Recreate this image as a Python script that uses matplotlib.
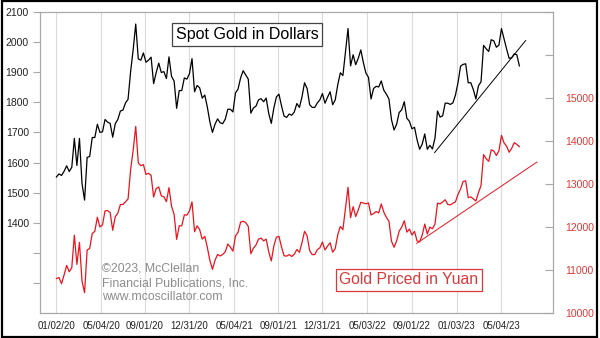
import matplotlib
matplotlib.use("Agg")
import matplotlib.pyplot as plt
import matplotlib.dates as mdates
import pandas as pd

plt.rcParams["font.family"] = ["Liberation Sans", "DejaVu Sans"]

RED = "#e8141e"
RED_TXT = "#d83a3a"
GRID = "#dadada"
SPINE = "#a8a8a8"

# weekly readings, first one 2020-01-03
start = "2020-01-03"

gold_usd = [
    1552, 1562, 1557, 1571, 1589, 1570, 1584, 1680, 1590, 1680, 1530, 1475, 1617,
    1620, 1683, 1683, 1727, 1700, 1702, 1743, 1734, 1730, 1684, 1729, 1743, 1771,
    1774, 1798, 1810, 1902, 1975, 2060, 1944, 1940, 1964, 1933, 1940, 1950, 1862,
    1899, 1930, 1899, 1902, 1879, 1951, 1886, 1871, 1780, 1839, 1839, 1881, 1877,
    1895, 1945, 1835, 1856, 1848, 1814, 1824, 1784, 1734, 1700, 1727, 1745, 1732,
    1729, 1744, 1777, 1777, 1768, 1831, 1844, 1881, 1905, 1891, 1877, 1764, 1781,
    1787, 1808, 1812, 1802, 1814, 1763, 1730, 1781, 1818, 1827, 1788, 1754, 1750,
    1761, 1757, 1768, 1796, 1783, 1818, 1865, 1846, 1792, 1783, 1783, 1798, 1808,
    1829, 1797, 1817, 1835, 1792, 1808, 1859, 1898, 1889, 1966, 2045, 1921, 1958,
    1925, 1946, 1974, 1932, 1897, 1883, 1811, 1846, 1853, 1851, 1871, 1840, 1827,
    1811, 1742, 1708, 1727, 1766, 1775, 1802, 1747, 1737, 1712, 1717, 1675, 1644,
    1661, 1695, 1644, 1657, 1645, 1681, 1771, 1751, 1755, 1797, 1797, 1793, 1798,
    1824, 1865, 1920, 1926, 1928, 1865, 1865, 1842, 1811, 1855, 1868, 1989, 1978,
    1969, 2008, 2004, 1983, 1990, 2045, 2011, 1977, 1946, 1948, 1961, 1958, 1921,
]

gold_cny = [
    10802, 10825, 10681, 10887, 11107, 10959, 11056, 11810, 11130, 11642, 10741, 10473, 11465,
    11502, 11848, 11899, 12227, 12002, 12050, 12375, 12381, 12335, 11923, 12241, 12323, 12521,
    12524, 12586, 12652, 13333, 13786, 14338, 13491, 13425, 13453, 13222, 13250, 13202, 12699,
    12894, 12931, 12723, 12705, 12589, 12916, 12485, 12292, 11712, 12027, 12027, 12283, 12276,
    12374, 12584, 11891, 12027, 11938, 11718, 11783, 11525, 11219, 11016, 11226, 11360, 11327,
    11360, 11423, 11604, 11533, 11439, 11792, 11875, 12114, 12135, 12102, 12013, 11378, 11505,
    11580, 11716, 11742, 11677, 11718, 11424, 11210, 11559, 11762, 11784, 11533, 11331, 11323,
    11358, 11315, 11368, 11476, 11411, 11635, 11899, 11796, 11451, 11358, 11358, 11471, 11517,
    11651, 11465, 11556, 11634, 11415, 11499, 11823, 12014, 11938, 12425, 12924, 12218, 12472,
    12243, 12396, 12574, 12558, 12539, 12560, 12279, 12313, 12360, 12328, 12536, 12346, 12223,
    12134, 11671, 11529, 11675, 11903, 11999, 12145, 11880, 11951, 11813, 11899, 11675, 11656,
    11810, 12068, 11837, 11997, 11959, 12070, 12556, 12537, 12583, 12633, 12525, 12515, 12550,
    12586, 12757, 12883, 13058, 13072, 12682, 12701, 12655, 12605, 12800, 12964, 13684, 13589,
    13527, 13795, 13767, 13663, 13771, 14131, 13956, 13879, 13739, 13831, 13962, 13921, 13870,
]

# hand-drawn trend lines
usd_trend_dates = ["2022-11-03", "2023-07-10"]
usd_trend_vals = [1633, 2005]
cny_trend_dates = ["2022-09-15", "2023-08-10"]
cny_trend_vals = [11620, 13510]

tick_dates = ["2020-01-02", "2020-05-04", "2020-09-01", "2020-12-31", "2021-05-04",
              "2021-09-01", "2021-12-31", "2022-05-03", "2022-09-01", "2023-01-03",
              "2023-05-04"]

dates = pd.date_range(start, periods=len(gold_usd), freq="7D")
ticks = pd.to_datetime(tick_dates)

fig = plt.figure(figsize=(6, 3.38), dpi=100, facecolor="white")
ax = fig.add_axes([40 / 600, 1 - 313 / 338, 513 / 600, 301 / 338])
ax2 = ax.twinx()

ax.plot(dates, gold_usd, color="black", lw=0.9)
ax.plot(pd.to_datetime(usd_trend_dates), usd_trend_vals, color="black", lw=0.7)
ax2.plot(dates, gold_cny, color=RED, lw=0.9)
ax2.plot(pd.to_datetime(cny_trend_dates), cny_trend_vals, color=RED, lw=0.7)

ax.set_xlim(pd.Timestamp("2019-11-19"), pd.Timestamp("2023-09-23"))
ax.set_ylim(1100, 2100)
ax2.set_ylim(10000, 17000)

ax.set_xticks(ticks)
ax.set_xticklabels([d.strftime("%m/%d/%y") for d in ticks], fontsize=7, color="#222222")
ax.tick_params(axis="x", length=0, pad=6)
ax.grid(axis="x", color=GRID, lw=0.8)
ax.set_axisbelow(True)

lticks = list(range(1200, 2101, 100))
ax.set_yticks(lticks)
ax.set_yticklabels([str(v) if v >= 1400 else "" for v in lticks], fontsize=7.5, color="#222222")
ax.tick_params(axis="y", length=5, color=SPINE, pad=3)

rticks = list(range(10000, 17001, 1000))
ax2.set_yticks(rticks)
ax2.set_yticklabels([str(v) if v <= 15000 else "" for v in rticks], fontsize=7.5, color=RED_TXT)
ax2.tick_params(axis="y", direction="in", length=6, color=SPINE, pad=9)

for a in (ax, ax2):
    for s in a.spines.values():
        s.set_color(SPINE)
        s.set_linewidth(0.8)

ax.text(247 / 600, 1 - 34.5 / 338, "Spot Gold in Dollars", transform=fig.transFigure,
        fontsize=11.5, color="black", ha="center", va="center",
        bbox=dict(boxstyle="square,pad=0.25", fc="white", ec="#444444", lw=0.9))
ax.text(409 / 600, 1 - 280 / 338, "Gold Priced in Yuan", transform=fig.transFigure,
        fontsize=11.3, color=RED_TXT, ha="center", va="center",
        bbox=dict(boxstyle="square,pad=0.25", fc="white", ec=RED_TXT, lw=0.9))
ax.text(102 / 600, 1 - 283 / 338,
        "©2023, McClellan\nFinancial Publications, Inc.\nwww.mcoscillator.com",
        transform=fig.transFigure, fontsize=8.8, color="#8c8c8c", ha="left", va="center",
        linespacing=1.25)

# outer frame
fig.add_artist(plt.Rectangle((0.003, 0.004), 0.992, 0.993, transform=fig.transFigure,
                             fill=False, ec="black", lw=1.6))

fig.savefig("out.png", dpi=100, facecolor="white")
